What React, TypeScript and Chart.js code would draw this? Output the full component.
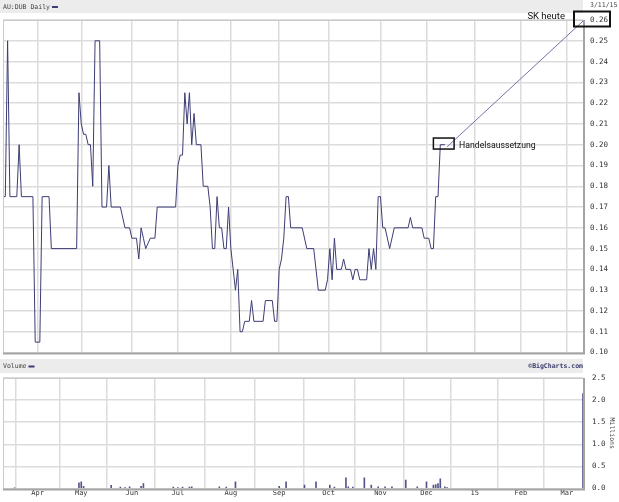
import React, { useEffect, useRef } from 'react';
import { Chart, registerables } from 'chart.js';

Chart.register(...registerables);

// ---------- data ----------
const TITLE = 'AU:DUB Daily';
const END_DATE = '3/11/15';
const VOLUME_TITLE = 'Volume';
const SOURCE = '\u00A9BigCharts.com';
const VOLUME_UNIT = 'Millions';
const NOTE_HALT = 'Handelsaussetzung';
const NOTE_TODAY = 'SK heute';

// x axis in trading days since 11 Mar 2014
const dayMin = 0;
const dayMax = 252;
const monthLabels = ['Apr', 'May', 'Jun', 'Jul', 'Aug', 'Sep', 'Oct', 'Nov', 'Dec', '15', 'Feb', 'Mar'];
const monthDays = [15, 34, 56, 76, 99, 120, 141.5, 164, 184, 205, 225, 245];

const priceMin = 0.1;
const priceMax = 0.26;
const priceStep = 0.01;
const volumeMin = 0;
const volumeMax = 2.5;
const volumeStep = 0.5;

const priceDays = [
  0, 1, 2, 3, 6, 7, 8, 13, 14, 16, 17, 20, 21, 32, 33, 34, 35, 36, 37, 38, 39, 40, 42, 43, 45, 46, 47, 51, 53, 55,
  56, 58, 59, 60, 61, 62, 64, 66, 67, 75, 76, 77, 78, 79, 80, 81, 82, 83, 84, 86, 87, 89, 90, 91, 92, 93, 94, 95,
  96, 97, 98, 99, 101, 102, 103, 104, 105, 107, 108, 109, 113, 114, 117, 118, 119, 120, 121, 122, 123, 124, 125,
  130, 132, 135, 137, 140, 141, 142, 143, 144, 145, 147, 148, 149, 151, 152, 153, 154, 155, 158, 159, 160, 161,
  162, 163, 164, 165, 166, 168, 170, 176, 177, 178, 182, 183, 185, 186, 187, 188, 189, 190, 192,
];
const priceValues = [
  0.175, 0.175, 0.25, 0.175, 0.175, 0.2, 0.175, 0.175, 0.105, 0.105, 0.175, 0.175, 0.15, 0.15, 0.225, 0.21, 0.205,
  0.205, 0.2, 0.2, 0.18, 0.25, 0.25, 0.17, 0.17, 0.19, 0.17, 0.17, 0.16, 0.16,
  0.155, 0.155, 0.145, 0.16, 0.155, 0.15, 0.155, 0.155, 0.17, 0.17, 0.19, 0.195, 0.195, 0.225, 0.21, 0.225, 0.2,
  0.215, 0.2, 0.2, 0.18, 0.18, 0.17, 0.15, 0.15, 0.175, 0.16, 0.16,
  0.15, 0.15, 0.17, 0.15, 0.13, 0.14, 0.11, 0.11, 0.115, 0.115, 0.125, 0.115, 0.115, 0.125, 0.125, 0.115, 0.115,
  0.14, 0.145, 0.155, 0.175, 0.175, 0.16,
  0.16, 0.15, 0.15, 0.13, 0.13, 0.135, 0.15, 0.135, 0.155, 0.14, 0.14, 0.145, 0.14, 0.14, 0.135, 0.14, 0.14, 0.135,
  0.135, 0.15, 0.14, 0.15,
  0.14, 0.175, 0.175, 0.16, 0.16, 0.15, 0.16, 0.16, 0.165, 0.16, 0.16, 0.155, 0.155, 0.15, 0.15, 0.175, 0.175, 0.2,
  0.2,
];

const volumeDays = [
  5, 33, 34, 35, 47, 51, 53, 55, 60, 61, 74, 76, 78, 81, 82, 94, 97, 101, 120, 123, 131, 136, 142, 144, 149, 150,
  152, 157, 160, 163, 166, 169, 175, 180, 184, 187, 188, 189, 190, 192, 193, 252,
];
const volumeValues = [
  0.01, 0.13, 0.15, 0.05, 0.07, 0.03, 0.02, 0.04, 0.05, 0.11, 0.03, 0.02, 0.03, 0.03, 0.04, 0.04, 0.03, 0.15, 0.05,
  0.15, 0.08, 0.15, 0.08, 0.03, 0.24, 0.04, 0.03, 0.24, 0.08, 0.04, 0.04, 0.04, 0.19, 0.04, 0.15, 0.08, 0.09, 0.11,
  0.22, 0.04, 0.02, 2.15,
];

// annotation anchors (data space)
const haltBoxDays = [187, 196];
const haltBoxPrices = [0.1979, 0.2032];
const connectorFrom = { day: 193, price: 0.199 };
const connectorTo = { day: 252, price: 0.2595 };

// ---------- styles ----------
const LINE_COLOR = '#3d3d75';
const BAR_COLOR = '#55558a';
const GRID_COLOR = '#dcdcdc';
const BAND_COLOR = '#ececec';
const AXIS_FONT = 'DejaVu Sans Mono';

const W = 619;
const PRICE_H = 364;
const VOL_TOP = 356;
const VOL_H = 146;
const PLOT_RIGHT = 583;

const framePlugin = {
  id: 'frame',
  afterDraw(chart: any) {
    const { ctx, chartArea } = chart;
    const { left, right, top, bottom } = chartArea;
    ctx.save();
    ctx.strokeStyle = '#cacaca';
    ctx.lineWidth = 1;
    ctx.beginPath();
    ctx.moveTo(left + 0.5, top);
    ctx.lineTo(left + 0.5, bottom);
    ctx.moveTo(left, top + 0.5);
    ctx.lineTo(right, top + 0.5);
    ctx.stroke();
    ctx.strokeStyle = '#a4a4a4';
    ctx.lineWidth = 2;
    ctx.beginPath();
    ctx.moveTo(right + 1, top);
    ctx.lineTo(right + 1, bottom + 2);
    ctx.moveTo(left, bottom + 1);
    ctx.lineTo(right + 2, bottom + 1);
    ctx.stroke();
    ctx.restore();
  },
};

function drawBand(ctx: CanvasRenderingContext2D, y: number, h: number, label: string, right?: string) {
  ctx.save();
  ctx.fillStyle = BAND_COLOR;
  ctx.fillRect(0, y, PLOT_RIGHT, h);
  ctx.font = `6.5px "${AXIS_FONT}"`;
  ctx.fillStyle = '#444';
  ctx.textBaseline = 'middle';
  ctx.textAlign = 'left';
  ctx.fillText(label, 3, y + h / 2 + 0.5);
  const tw = ctx.measureText(label).width;
  ctx.fillStyle = LINE_COLOR;
  ctx.fillRect(3 + tw + 2, y + h / 2 - 0.5, 6, 2);
  if (right) {
    ctx.font = `bold 6.5px "${AXIS_FONT}"`;
    ctx.fillStyle = '#3a3a6e';
    ctx.textAlign = 'right';
    ctx.fillText(right, PLOT_RIGHT, y + h / 2 + 0.5);
  }
  ctx.restore();
}

const priceDecor = {
  id: 'priceDecor',
  beforeDraw(chart: any) {
    drawBand(chart.ctx, 0, 13, TITLE);
  },
  afterDraw(chart: any) {
    const { ctx, chartArea, scales } = chart;
    const xs = scales.x;
    const ys = scales.y;
    ctx.save();
    ctx.font = `6.5px "${AXIS_FONT}"`;
    ctx.fillStyle = '#444';
    ctx.textAlign = 'left';
    ctx.textBaseline = 'middle';
    ctx.fillText(END_DATE, 590, 5);
    ctx.strokeStyle = '#7272a8';
    ctx.lineWidth = 1;
    ctx.beginPath();
    ctx.moveTo(xs.getPixelForValue(connectorFrom.day), ys.getPixelForValue(connectorFrom.price));
    ctx.lineTo(xs.getPixelForValue(connectorTo.day), ys.getPixelForValue(connectorTo.price));
    ctx.stroke();
    ctx.strokeStyle = '#111';
    ctx.lineWidth = 1.5;
    const bx0 = xs.getPixelForValue(haltBoxDays[0]);
    const bx1 = xs.getPixelForValue(haltBoxDays[1]);
    const by0 = ys.getPixelForValue(haltBoxPrices[1]);
    const by1 = ys.getPixelForValue(haltBoxPrices[0]);
    ctx.strokeRect(bx0, by0, bx1 - bx0, by1 - by0);
    const ty = ys.getPixelForValue(priceMax);
    ctx.lineWidth = 2;
    ctx.strokeRect(chartArea.right - 9, ty - 8.5, 36, 15);
    ctx.fillStyle = '#111';
    ctx.font = '8.7px Roboto';
    ctx.textAlign = 'left';
    ctx.textBaseline = 'middle';
    ctx.fillText(NOTE_HALT, bx1 + 5, (by0 + by1) / 2 + 2);
    ctx.font = '9.5px Roboto';
    ctx.textAlign = 'right';
    ctx.fillText(NOTE_TODAY, chartArea.right - 18, ty - 3);
    ctx.restore();
  },
};

const volumeDecor = {
  id: 'volumeDecor',
  beforeDraw(chart: any) {
    drawBand(chart.ctx, 3, 14, VOLUME_TITLE, SOURCE);
  },
  afterDraw(chart: any) {
    const { ctx, chartArea } = chart;
    ctx.save();
    ctx.font = `6.5px "${AXIS_FONT}"`;
    ctx.fillStyle = '#444';
    ctx.textAlign = 'center';
    ctx.textBaseline = 'middle';
    ctx.translate(612, (chartArea.top + chartArea.bottom) / 2);
    ctx.rotate(Math.PI / 2);
    ctx.fillText(VOLUME_UNIT, 0, 0);
    ctx.restore();
  },
};

function monthTicks(scale: any) {
  scale.ticks = monthDays.map((v) => ({ value: v }));
}

export default function App() {
  const priceRef = useRef<HTMLCanvasElement>(null);
  const volRef = useRef<HTMLCanvasElement>(null);

  useEffect(() => {
    document.body.style.margin = '0';
    const axisFont = { family: AXIS_FONT, size: 7.5 };

    const price = new Chart(priceRef.current as HTMLCanvasElement, {
      type: 'line',
      data: {
        datasets: [
          {
            data: priceDays.map((d, i) => ({ x: d, y: priceValues[i] })),
            borderColor: LINE_COLOR,
            borderWidth: 1,
            pointRadius: 0,
            tension: 0,
            fill: false,
          },
        ],
      },
      options: {
        animation: false,
        responsive: false,
        events: [],
        layout: { padding: { left: 3, top: 20, right: 0, bottom: 4 } },
        plugins: { legend: { display: false }, tooltip: { enabled: false } },
        scales: {
          x: {
            type: 'linear',
            min: dayMin,
            max: dayMax,
            afterBuildTicks: monthTicks,
            ticks: { display: false },
            grid: { color: GRID_COLOR, lineWidth: 1.5, drawTicks: false },
            border: { display: false },
            afterFit: (s: any) => {
              s.height = 0;
            },
          },
          y: {
            position: 'right',
            min: priceMin,
            max: priceMax,
            ticks: {
              stepSize: priceStep,
              callback: (v: any) => Number(v).toFixed(2),
              font: axisFont,
              color: '#333',
              padding: 7,
            },
            grid: { color: GRID_COLOR, lineWidth: 1.5, drawTicks: false },
            border: { display: false },
            afterFit: (s: any) => {
              s.width = W - PLOT_RIGHT;
            },
          },
        },
      } as any,
      plugins: [framePlugin, priceDecor],
    });

    const volume = new Chart(volRef.current as HTMLCanvasElement, {
      type: 'bar',
      data: {
        datasets: [
          {
            data: volumeDays.map((d, i) => ({ x: d, y: volumeValues[i] })),
            backgroundColor: BAR_COLOR,
            borderWidth: 0,
            barThickness: 1,
            grouped: false,
          } as any,
        ],
      },
      options: {
        animation: false,
        responsive: false,
        events: [],
        layout: { padding: { left: 3, top: 22, right: 0, bottom: 0 } },
        plugins: { legend: { display: false }, tooltip: { enabled: false } },
        scales: {
          x: {
            type: 'linear',
            min: dayMin,
            max: dayMax,
            offset: false,
            afterBuildTicks: monthTicks,
            ticks: {
              autoSkip: false,
              maxRotation: 0,
              padding: 0,
              font: { family: AXIS_FONT, size: 7 },
              color: '#333',
              callback: (_v: any, i: number) => monthLabels[i],
            },
            grid: { color: GRID_COLOR, lineWidth: 1.5, drawTicks: false },
            border: { display: false },
            afterFit: (s: any) => {
              s.height = 10;
            },
          },
          y: {
            position: 'right',
            min: volumeMin,
            max: volumeMax,
            ticks: {
              stepSize: volumeStep,
              callback: (v: any) => Number(v).toFixed(1),
              font: axisFont,
              color: '#333',
              padding: 9,
            },
            grid: { color: GRID_COLOR, lineWidth: 1.5, drawTicks: false },
            border: { display: false },
            afterFit: (s: any) => {
              s.width = W - PLOT_RIGHT;
            },
          },
        },
      } as any,
      plugins: [framePlugin, volumeDecor],
    });

    return () => {
      price.destroy();
      volume.destroy();
    };
  }, []);

  return (
    <div style={{ position: 'relative', width: W, height: VOL_TOP + VOL_H, background: '#fff' }}>
      <canvas
        ref={priceRef}
        width={W}
        height={PRICE_H}
        style={{ position: 'absolute', left: 0, top: 0, width: W, height: PRICE_H }}
      />
      <canvas
        ref={volRef}
        width={W}
        height={VOL_H}
        style={{ position: 'absolute', left: 0, top: VOL_TOP, width: W, height: VOL_H }}
      />
    </div>
  );
}
